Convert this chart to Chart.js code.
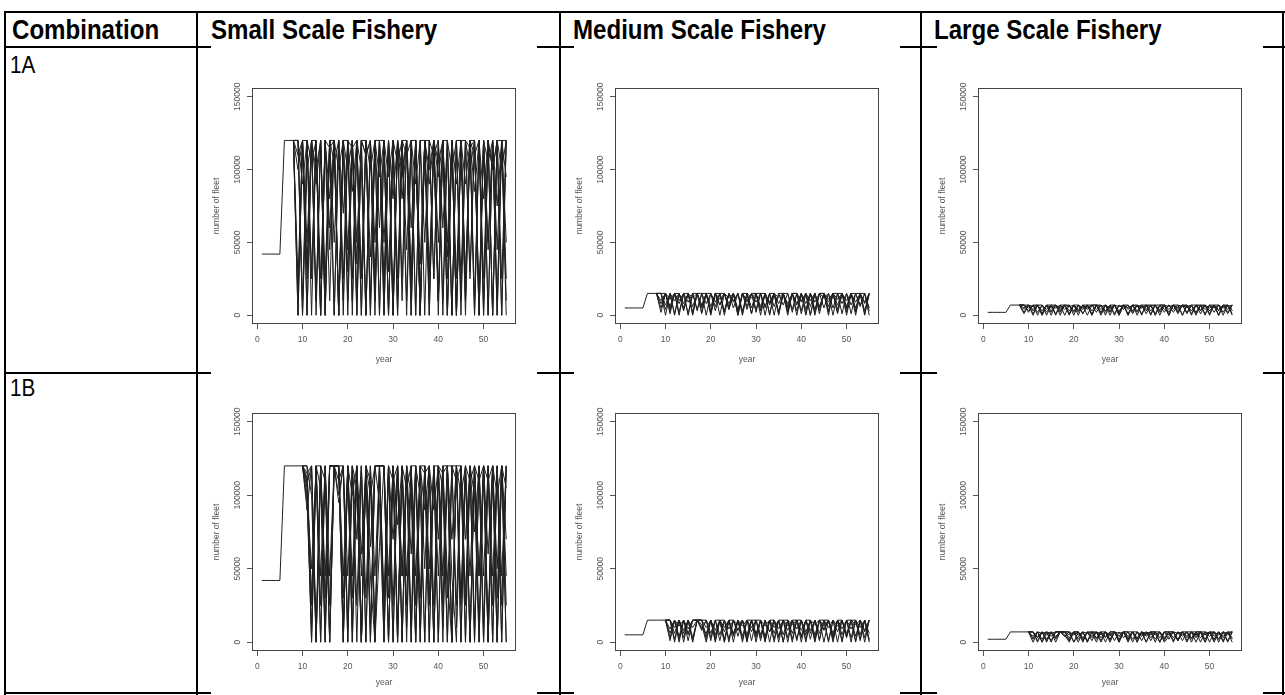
<!DOCTYPE html>
<html>
<head>
<meta charset="utf-8">
<script src="https://cdn.jsdelivr.net/npm/chart.js@4.4.1/dist/chart.umd.min.js"></script>
<style>
    body { margin: 0; background: #fff; width: 1285px; height: 695px; overflow: hidden; position: relative; font-family: "Liberation Sans", Arial, sans-serif; }
    .ln { position: absolute; background: #000; }
    .txt { position: absolute; white-space: nowrap; transform-origin: 0 0; transform: scaleX(0.86); color: #000; }
    .hd { font-weight: bold; font-size: 28px; line-height: 32px; top: 14px; }
    .rw { font-size: 24px; line-height: 28px; left: 10px; }
    .cell { position: absolute; background: #fff; width: 326px; }
    canvas { display: block; }
</style>
</head>
<body>

<!-- table rules -->
<div class="ln" style="left:4px;top:11px;width:1281px;height:2px"></div>
<div class="ln" style="left:4px;top:46px;width:1281px;height:2px"></div>
<div class="ln" style="left:4px;top:372px;width:1281px;height:2px"></div>
<div class="ln" style="left:4px;top:692px;width:1281px;height:2px"></div>
<div class="ln" style="left:4px;top:11px;width:2px;height:684px"></div>
<div class="ln" style="left:196px;top:11px;width:2px;height:684px"></div>
<div class="ln" style="left:559px;top:11px;width:2px;height:684px"></div>
<div class="ln" style="left:920px;top:11px;width:2px;height:684px"></div>
<div class="ln" style="left:1282px;top:11px;width:2px;height:684px"></div>

<div class="txt hd" style="left:12px">Combination</div>
<div class="txt hd" style="left:211px">Small Scale Fishery</div>
<div class="txt hd" style="left:573px">Medium Scale Fishery</div>
<div class="txt hd" style="left:934px">Large Scale Fishery</div>
<div class="txt rw" style="top:51px">1A</div>
<div class="txt rw" style="top:374px">1B</div>

<div class="cell" style="left:211px;top:46px;height:326px"><canvas id="s1a" width="326" height="326"></canvas></div>
<div class="cell" style="left:574px;top:46px;height:326px"><canvas id="m1a" width="326" height="326"></canvas></div>
<div class="cell" style="left:937px;top:46px;height:326px"><canvas id="l1a" width="326" height="326"></canvas></div>
<div class="cell" style="left:211px;top:372px;height:323px"><canvas id="s1b" width="326" height="323"></canvas></div>
<div class="cell" style="left:574px;top:372px;height:323px"><canvas id="m1b" width="326" height="323"></canvas></div>
<div class="cell" style="left:937px;top:372px;height:323px"><canvas id="l1b" width="326" height="323"></canvas></div>

<script>
// axes
const years = [1,2,3,4,5,6,7,8,9,10,11,12,13,14,15,16,17,18,19,20,21,22,23,24,25,26,27,28,29,30,
    31,32,33,34,35,36,37,38,39,40,41,42,43,44,45,46,47,48,49,50,51,52,53,54,55];
const xTicks = [0, 10, 20, 30, 40, 50];
const yTicks = [0, 50000, 100000, 150000];
const yTickLabels = ['0', '50000', '100000', '150000'];

// number of fleet, in thousands; lead = years before the runs split up
const small1aLead = [42,42,42,42,42,120,120,120];
const small1aRuns = [
    [0,120,25,120,10,120,0,120,50,120, 10,120,25,120,0,120,10,120,95,120, 0,120,25,120,10,120,0,120,50,120, 25,120,10,120,0,120,10,120,25,120, 0,120,50,120,10,120,25],
    [120,10,120,0,120,25,120,80,120,0, 120,10,120,50,120,0,120,25,120,10, 120,0,120,95,120,25,120,0,120,10, 120,50,120,0,120,25,120,10,120,0, 120,80,120,0,120,25,120],
    [100,120,35,120,120,0,120,60,120,10, 120,120,85,120,25,120,0,120,120,50, 120,10,120,100,120,0,120,35,120,120, 25,120,60,120,0,120,120,10,120,85, 120,25,120,0,120,120,50],
    [25,120,0,120,100,120,10,120,0,120, 70,120,10,120,25,120,0,120,60,120, 0,120,10,120,120,25,120,0,120,100, 120,10,120,25,120,0,120,90,120,10, 120,0,120,100,120,0,120],
    [120,90,120,25,120,0,120,10,120,100, 120,0,120,35,120,110,120,10,120,0, 120,80,120,25,120,10,120,0,120,90, 120,10,120,120,0,120,25,120,100,120, 10,120,0,120,75,120,10],
    [10,120,50,120,0,120,25,120,120,0, 120,45,120,10,120,0,120,50,120,25, 120,0,120,10,120,60,120,0,120,25, 120,10,120,50,120,0,120,25,120,120, 10,120,0,120,45,120,0],
    [120,0,120,105,120,0,120,115,120,0, 120,100,120,0,120,110,120,0,120,120, 0,120,105,120,0,120,90,120,0,120, 110,120,0,120,100,120,0,120,115,120, 0,120,105,120,0,120,95],
    [110,120,0,120,90,120,0,120,105,120, 0,120,115,120,0,120,100,120,0,120, 95,120,0,120,110,120,0,120,120,0, 120,105,120,0,120,90,120,0,120,110, 120,0,120,100,120,0,120],
    [0,120,120,30,120,0,120,45,120,0, 120,30,120,0,120,120,40,120,0,120, 30,120,0,120,45,120,120,0,120,30, 120,0,120,40,120,0,120,120,30,120, 0,120,45,120,0,120,120],
    [120,0,100,120,10,120,0,120,0,120, 25,120,0,120,100,0,120,10,120,0, 120,0,120,80,120,0,120,10,120,0, 120,95,120,0,120,0,120,25,120,0, 120,10,120,0,120,100,120]
];

const medium1aLead = [5,5,5,5,5,15,15,15];
const medium1aRuns = [
    [2,15,6,15,0,15,9,15,3,15, 15,1,15,7,15,4,15,0,15,10, 15,2,15,6,15,15,0,15,8,15, 3,15,1,15,9,15,5,15,0,15, 15,6,15,2,15,8,15],
    [15,4,15,1,15,8,15,2,15,15, 0,15,6,15,3,15,10,15,1,15, 5,15,0,15,7,15,2,15,15,4, 15,9,15,0,15,6,15,2,15,11, 15,0,15,5,15,1,15],
    [8,15,1,15,15,5,15,0,15,7, 15,2,15,11,15,4,15,0,15,6, 15,15,3,15,9,15,1,15,5,15, 0,15,8,15,2,15,15,6,15,1, 15,10,15,3,15,0,15],
    [15,0,15,10,15,3,15,6,15,1, 15,15,9,15,2,15,5,15,0,15, 12,15,4,15,1,15,8,15,0,15, 15,3,15,6,15,1,15,11,15,4, 15,2,15,15,7,15,3],
    [5,15,11,15,2,15,0,15,15,6, 15,3,15,0,15,8,15,4,15,15, 1,15,6,15,0,15,12,15,3,15, 7,15,0,15,4,15,15,9,15,2, 15,5,15,0,15,9,15],
    [15,7,15,0,15,4,15,12,15,2, 15,6,15,15,0,15,9,15,3,15, 1,15,15,5,15,0,15,7,15,2, 15,10,15,0,15,5,15,3,15,15, 8,15,1,15,6,15,0],
    [10,15,3,15,8,15,15,1,15,5, 15,0,15,7,15,12,15,2,15,4, 15,9,15,0,15,6,15,15,2,15, 8,15,4,15,0,15,12,15,5,15, 1,15,7,15,15,3,15],
    [15,15,5,15,10,15,1,15,4,15, 8,15,3,15,15,6,15,1,15,9, 15,4,15,15,8,15,2,15,6,15, 15,1,15,10,15,3,15,0,15,7, 15,4,15,9,15,15,5]
];

const large1aLead = [2,2,2,2,2,7,7,7];
const large1aRuns = [
    [1,7,3,7,0,7,5,7,2,7, 7,0,7,4,7,1,7,6,7,0, 7,3,7,7,1,7,5,7,0,7, 2,7,4,7,7,0,7,3,7,1, 7,5,7,0,7,2,7],
    [7,2,7,0,7,4,7,1,7,7, 3,7,0,7,5,7,2,7,0,7, 7,1,7,4,7,0,7,7,3,7, 0,7,6,7,1,7,2,7,7,4, 7,0,7,3,7,7,1],
    [4,7,0,7,7,2,7,5,7,0, 7,3,7,1,7,7,4,7,2,7, 0,7,5,7,3,7,1,7,7,0, 7,4,7,2,7,6,7,0,7,3, 7,1,7,7,5,7,0],
    [7,5,7,2,7,0,7,7,3,7, 1,7,4,7,0,7,7,2,7,5, 7,0,7,1,7,6,7,3,7,0, 7,7,2,7,5,7,1,7,0,7, 4,7,2,7,0,7,3],
    [2,7,6,7,1,7,0,7,4,7, 0,7,7,1,7,3,7,0,7,4, 7,2,7,0,7,7,5,7,1,7, 3,7,0,7,4,7,7,1,7,6, 7,3,7,0,7,4,7],
    [7,3,7,7,0,7,2,7,5,7, 1,7,3,7,7,0,7,4,7,2, 7,6,7,0,7,3,7,1,7,7, 4,7,0,7,2,7,5,7,1,7, 7,3,7,0,7,6,7],
    [5,7,1,7,3,7,7,0,7,4, 7,2,7,5,7,0,7,7,3,7, 1,7,4,7,2,7,0,7,6,7, 7,2,7,4,7,0,7,3,7,7, 1,7,5,7,2,7,4],
    [7,7,4,7,1,7,3,7,0,7, 6,7,2,7,4,7,7,1,7,3, 7,0,7,5,7,2,7,4,7,1, 7,7,0,7,3,7,6,7,2,7, 0,7,7,4,7,1,7]
];

const small1bLead = [42,42,42,42,42,120,120,120,120,120];
const small1bRuns = [
    [105,0,120,25,120,0,120,120,0,120, 45,120,0,120,10,120,120,0,120,25, 120,0,120,60,120,10,120,0,120,45, 120,120,0,120,25,120,0,120,10,120, 0,120,50,120,0],
    [115,120,10,120,0,120,120,95,120,0, 120,25,120,0,120,0,65,120,0,120, 10,120,0,120,25,120,50,120,0,120, 10,120,45,0,120,25,120,0,120,10, 120,0,120,25,120],
    [100,50,120,0,120,25,120,120,10,120, 0,120,60,120,0,120,120,25,120,0, 120,45,120,0,120,100,0,120,25,120, 0,120,120,10,120,0,120,75,120,0, 120,25,120,0,120],
    [120,25,120,120,10,120,120,120,120,45, 120,0,120,30,120,10,120,120,45,120, 0,120,25,120,0,120,120,50,120,0, 120,30,120,120,0,120,45,120,0,120, 60,120,0,120,70],
    [108,120,0,120,45,120,120,100,120,10, 120,70,120,0,120,45,120,120,0,120, 80,120,10,120,45,120,0,120,90,120, 25,120,70,120,0,120,110,120,45,120, 10,120,0,120,25],
    [95,10,120,45,120,0,120,120,45,120, 10,120,0,120,65,120,120,10,120,70, 120,0,120,10,120,0,120,25,120,70, 120,0,120,25,120,70,120,10,120,45, 120,0,120,45,120],
    [110,0,120,105,0,120,120,120,0,120, 100,120,0,120,110,0,120,120,0,120, 0,120,105,120,0,120,90,120,0,120, 115,120,0,120,100,120,0,120,110,120, 0,120,100,120,0],
    [120,100,0,120,110,0,120,110,120,0, 120,105,0,120,100,120,95,0,120,110, 120,0,120,100,0,120,115,120,0,120, 105,0,120,110,120,0,120,100,0,120, 110,120,0,120,105],
    [90,120,0,120,30,120,120,120,30,120, 0,120,45,120,0,120,120,30,120,0, 120,45,120,0,120,30,120,0,120,120, 45,120,0,120,30,120,0,120,45,120, 0,120,30,120,45],
    [112,30,120,0,120,45,120,120,0,120, 30,120,0,120,45,0,120,120,30,120, 0,120,45,120,120,0,120,30,120,0, 120,45,0,120,120,30,120,0,120,0, 120,45,120,0,120]
];

const medium1bLead = [5,5,5,5,5,15,15,15,15,15];
const medium1bRuns = [
    [3,15,0,15,6,15,15,15,2,15, 8,15,0,15,4,15,11,15,1,15, 5,15,0,15,9,15,3,15,15,0, 15,6,15,2,15,10,15,0,15,4, 15,1,15,7,15],
    [15,2,15,8,15,0,15,9,15,1, 15,5,15,0,15,12,15,3,15,6, 15,0,15,15,4,15,8,15,1,15, 5,15,0,15,11,15,2,15,15,6, 15,0,15,3,15],
    [9,15,4,15,1,15,15,12,0,15, 3,15,7,15,0,15,2,15,15,5, 15,1,15,10,15,0,15,6,15,3, 15,15,1,15,8,15,4,15,0,15, 9,15,2,15,0],
    [15,0,15,3,15,10,15,15,15,6, 15,1,15,9,15,4,15,0,15,15, 3,15,7,15,0,15,11,15,2,15, 0,15,5,15,15,1,15,7,15,3, 15,12,15,0,15],
    [1,15,11,15,5,15,15,10,6,15, 0,15,15,2,15,8,15,5,15,0, 15,4,15,2,15,15,0,15,9,15, 2,15,12,15,0,15,6,15,1,15, 15,4,15,8,15],
    [15,6,15,0,15,3,15,15,4,15, 1,15,10,15,5,15,0,15,7,15, 15,2,15,6,15,0,15,12,15,4, 15,8,15,1,15,15,3,15,9,15, 0,15,5,15,2],
    [6,15,2,15,9,15,15,8,15,3, 15,15,0,15,6,15,4,15,10,15, 1,15,7,15,3,15,15,0,15,8, 15,2,15,6,15,0,15,11,15,4, 15,15,1,15,6],
    [15,10,15,6,15,1,15,15,10,15, 5,15,2,15,15,8,15,1,15,3, 15,11,15,0,15,5,15,2,15,15, 7,15,3,15,9,15,0,15,5,15, 3,15,10,15,1]
];

const large1bLead = [2,2,2,2,2,7,7,7,7,7];
const large1bRuns = [
    [2,7,0,7,4,7,7,7,1,7, 5,7,0,7,3,7,7,1,7,4, 7,0,7,2,7,6,7,0,7,3, 7,7,1,7,4,7,0,7,5,7, 2,7,0,7,3],
    [7,1,7,5,7,0,7,4,7,0, 7,3,7,1,7,0,7,5,7,2, 7,7,0,7,4,7,1,7,7,2, 7,0,7,5,7,3,7,7,0,7, 4,7,1,7,7],
    [4,7,2,7,0,7,7,7,3,7, 0,7,6,7,2,7,0,7,7,4, 7,1,7,3,7,0,7,5,7,1, 7,7,2,7,0,7,4,7,2,7, 7,0,7,5,7],
    [7,3,7,0,7,2,7,7,7,5, 7,2,7,7,0,7,4,7,1,7, 3,7,7,0,7,5,7,2,7,0, 4,7,1,7,7,0,7,3,7,6, 7,2,7,0,7],
    [0,7,6,7,1,7,7,5,0,7, 7,1,7,4,7,3,7,0,7,6, 7,2,7,0,7,4,7,7,0,7, 7,3,7,1,7,7,5,7,0,7, 1,7,4,7,0],
    [7,4,7,1,7,3,7,7,5,7, 2,7,0,7,6,7,3,7,7,1, 7,4,7,2,7,0,7,7,3,7, 5,7,1,7,3,7,7,0,7,4, 7,2,7,6,7],
    [3,7,0,7,6,7,7,4,2,7, 7,0,7,3,7,1,7,4,7,0, 7,7,2,7,5,7,3,7,0,7, 7,1,7,4,7,2,7,7,5,7, 0,7,3,7,2],
    [7,0,7,2,7,4,7,7,7,0, 4,7,1,7,7,5,7,2,7,0, 7,3,7,7,1,7,5,7,0,7, 2,7,6,7,1,7,3,7,7,0, 7,5,7,1,7]
];

const axisGrey = '#555';
const smallFont = { family: 'Liberation Sans', size: 8.5 };

// R style frame plus the rotated y labels
const rFrame = {
    id: 'rFrame',
    afterDraw(chart) {
        const { ctx, chartArea: a, scales: { y } } = chart;
        ctx.save();
        ctx.strokeStyle = '#444';
        ctx.lineWidth = 1;
        ctx.strokeRect(a.left + 0.5, a.top + 0.5, a.right - a.left - 1, a.bottom - a.top - 1);
        ctx.fillStyle = axisGrey;
        ctx.font = '8.5px "Liberation Sans"';
        ctx.textAlign = 'center';
        ctx.textBaseline = 'middle';
        yTicks.forEach((v, i) => {
            ctx.save();
            ctx.translate(a.left - 14, y.getPixelForValue(v));
            ctx.rotate(-Math.PI / 2);
            ctx.fillText(yTickLabels[i], 0, 0);
            ctx.restore();
        });
        ctx.restore();
    }
};

function drawPanel(id, lead, runs, padTop, xHeight) {
    // the shared lead-in is drawn by the first run only
    const datasets = runs.map((tail, k) => ({
        data: lead.concat(tail).map((v, i) => ({
            x: years[i],
            y: (k > 0 && i < lead.length - 1) ? null : v * 1000
        })),
        borderColor: '#202020',
        borderWidth: 1,
        pointRadius: 0,
        tension: 0,
        fill: false
    }));

    return new Chart(document.getElementById(id), {
        type: 'line',
        data: { datasets },
        options: {
            responsive: false,
            animation: false,
            devicePixelRatio: 1,
            layout: { padding: { top: padTop, right: 21, bottom: 7, left: 0 } },
            plugins: { legend: { display: false }, tooltip: { enabled: false } },
            scales: {
                x: {
                    type: 'linear', min: -1.16, max: 57.16, bounds: 'data',
                    afterBuildTicks: s => { s.ticks = xTicks.map(v => ({ value: v })); },
                    afterFit: s => { s.height = xHeight; },
                    ticks: { autoSkip: false, maxRotation: 0, padding: 6, color: axisGrey, font: smallFont, callback: v => String(v) },
                    grid: { drawOnChartArea: false, tickLength: 5, color: axisGrey },
                    border: { display: false },
                    title: { display: true, text: 'year', color: axisGrey, padding: 0, font: smallFont }
                },
                y: {
                    type: 'linear', min: -6000, max: 156000, bounds: 'data',
                    afterBuildTicks: s => { s.ticks = yTicks.map(v => ({ value: v })); },
                    afterFit: s => { s.width = 41; },
                    ticks: { display: false },
                    grid: { drawOnChartArea: false, tickLength: 5, color: axisGrey },
                    border: { display: false },
                    title: { display: true, text: 'number of fleet', color: axisGrey, padding: { top: 1, bottom: 0 }, font: smallFont }
                }
            }
        },
        plugins: [rFrame]
    });
}

drawPanel('s1a', small1aLead, small1aRuns, 42, 41);
drawPanel('m1a', medium1aLead, medium1aRuns, 42, 41);
drawPanel('l1a', large1aLead, large1aRuns, 42, 41);
drawPanel('s1b', small1bLead, small1bRuns, 41, 37);
drawPanel('m1b', medium1bLead, medium1bRuns, 41, 37);
drawPanel('l1b', large1bLead, large1bRuns, 41, 37);
</script>
</body>
</html>
